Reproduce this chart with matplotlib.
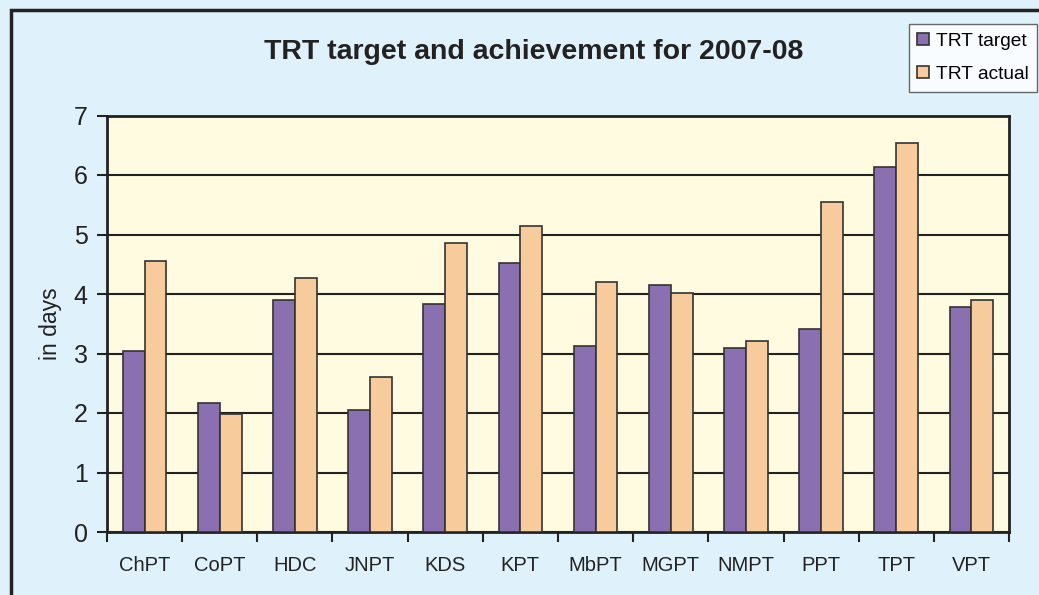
import numpy as np
import matplotlib
matplotlib.use("Agg")
import matplotlib.pyplot as plt
from matplotlib.patches import Rectangle

plt.rcParams['font.family'] = ['Liberation Sans', 'DejaVu Sans']

# Data
ports = ["ChPT", "CoPT", "HDC", "JNPT", "KDS", "KPT",
         "MbPT", "MGPT", "NMPT", "PPT", "TPT", "VPT"]
trt_target = [3.04, 2.17, 3.90, 2.05, 3.84, 4.52, 3.13, 4.15, 3.10, 3.41, 6.13, 3.78]
trt_actual = [4.55, 1.99, 4.27, 2.60, 4.86, 5.14, 4.21, 4.02, 3.21, 5.54, 6.53, 3.90]

purple = '#8a70b0'
orange = '#f7cb9b'
outer_bg = '#dff2fb'
plot_bg = '#fffbe0'

fig = plt.figure(figsize=(10.39, 5.95), dpi=100, facecolor=outer_bg)

# outer frame of the chart (cut off at right/bottom like the reference)
fig.patches.append(Rectangle((11 / 1039, -0.1), 1.2, (595 - 10) / 595 + 0.1,
                             transform=fig.transFigure, fill=False,
                             edgecolor='#222222', linewidth=2.5))

ax = fig.add_axes([107 / 1039, 1 - 532 / 595, (1009 - 107) / 1039, (532 - 115.5) / 595])
ax.set_facecolor(plot_bg)

x = np.arange(len(ports))
w = 0.29
ax.bar(x - w / 2, trt_target, w, color=purple, edgecolor='#333333', linewidth=1.2,
       label='TRT target', zorder=3)
ax.bar(x + w / 2, trt_actual, w, color=orange, edgecolor='#333333', linewidth=1.2,
       label='TRT actual', zorder=3)

ax.set_xlim(-0.5, len(ports) - 0.5)
ax.set_ylim(0, 7)
ax.set_yticks(range(8))
ax.yaxis.grid(True, color='#222222', linewidth=1.5, zorder=1)
ax.set_axisbelow(True)

# category ticks sit between groups, labels at the centres
ax.set_xticks(np.arange(-0.5, len(ports)), minor=False)
ax.set_xticklabels([])
ax.set_xticks(x, minor=True)
ax.set_xticklabels(ports, minor=True, fontsize=14.5, color='#222222')
ax.tick_params(axis='x', which='minor', length=0, pad=17)
ax.tick_params(axis='x', which='major', length=7, width=1.5, color='#222222')
ax.tick_params(axis='y', length=7, width=1.5, labelsize=18, color='#222222',
               labelcolor='#222222', pad=7)

for s in ax.spines.values():
    s.set_color('#222222')
    s.set_linewidth(2)

ax.set_ylabel('in days', fontsize=16.5, color='#222222', labelpad=8)

fig.text(534 / 1039, 1 - 52 / 595, 'TRT target and achievement for 2007-08',
         ha='center', va='center', fontsize=20.5, fontweight='bold', color='#222222')

leg = fig.legend(loc='upper right', bbox_to_anchor=(1037 / 1039, 1 - 24 / 595),
                 fontsize=13.8, frameon=True, fancybox=False, handlelength=0.6,
                 handleheight=0.6, handletextpad=0.35, labelspacing=0.85,
                 borderpad=0.45, borderaxespad=0)
leg.get_frame().set_edgecolor('#444444')
leg.get_frame().set_facecolor('white')
leg.get_frame().set_linewidth(1)

fig.savefig('out.png', dpi=100, facecolor=outer_bg)
